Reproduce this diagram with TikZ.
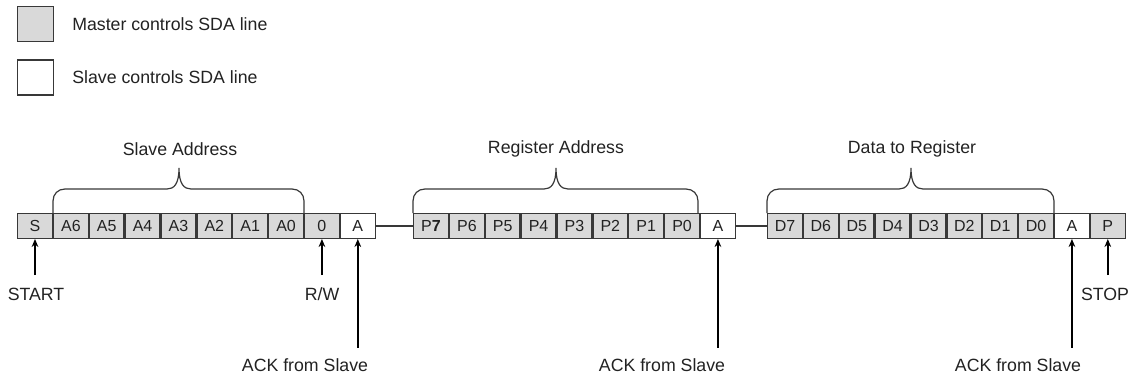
\documentclass[tikz,border=0pt]{standalone}
\usepackage{fontspec}
\setmainfont{Liberation Sans}
\usetikzlibrary{arrows.meta, positioning}
\definecolor{busgray}{HTML}{D9D9D9}
\definecolor{busline}{HTML}{383838}
\definecolor{bustext}{HTML}{222222}

\begin{document}
\begin{tikzpicture}[
    x=0.75pt, y=-0.75pt,
    >={Stealth[length=6pt,width=5pt]},
    bit/.style={
        draw=busline,
        line width=0.9pt,
        fill=busgray,
        minimum width=26.0pt,
        minimum height=18.6pt,
        inner sep=0pt,
        font=\fontsize{12}{14}\selectfont,
        text=bustext
    },
    ack/.style={bit, fill=white},
    key/.style={
        draw=busline,
        line width=0.9pt,
        minimum width=26.8pt,
        minimum height=26.2pt,
        inner sep=0pt
    },
    lbl/.style={
        font=\fontsize{13.3}{15}\selectfont,
        text=bustext,
        inner sep=0pt
    },
    brc/.style={draw=busline, line width=0.9pt},
    sig/.style={draw=black, line width=1.2pt, ->}
]
\useasboundingbox (0,0) rectangle (1131,379);

% legend
\node[key, fill=busgray] (keyM) at (35.5,24) {};
\node[lbl, anchor=west] (keyMt) at (72,24) {Master controls SDA line};
\node[key, fill=white] (keyS) at (35.5,77.5) {};
\node[lbl, anchor=west] (keySt) at (72,77.5) {Slave controls SDA line};

% slave address frame
\node[bit] (S) at (35,226) {S};
\node[bit, right=0pt of S] (A6) {A6};
\node[bit, right=0pt of A6] (A5) {A5};
\node[bit, right=0pt of A5] (A4) {A4};
\node[bit, right=0pt of A4] (A3) {A3};
\node[bit, right=0pt of A3] (A2) {A2};
\node[bit, right=0pt of A2] (A1) {A1};
\node[bit, right=0pt of A1] (A0) {A0};
\node[bit, right=0pt of A0] (Rw) {0};
\node[ack, right=0pt of Rw] (Ka) {A};

% register address frame
\node[bit] (P7) at (431,226) {P\textbf{7}};
\node[bit, right=0pt of P7] (P6) {P6};
\node[bit, right=0pt of P6] (P5) {P5};
\node[bit, right=0pt of P5] (P4) {P4};
\node[bit, right=0pt of P4] (P3) {P3};
\node[bit, right=0pt of P3] (P2) {P2};
\node[bit, right=0pt of P2] (P1) {P1};
\node[bit, right=0pt of P1] (P0) {P0};
\node[ack, right=0pt of P0] (Kb) {A};

% data frame
\node[bit] (D7) at (785,226) {D7};
\node[bit, right=0pt of D7] (D6) {D6};
\node[bit, right=0pt of D6] (D5) {D5};
\node[bit, right=0pt of D5] (D4) {D4};
\node[bit, right=0pt of D4] (D3) {D3};
\node[bit, right=0pt of D3] (D2) {D2};
\node[bit, right=0pt of D2] (D1) {D1};
\node[bit, right=0pt of D1] (D0) {D0};
\node[ack, right=0pt of D0] (Kc) {A};
\node[bit, right=0pt of Kc] (Sp) {P};

\draw[brc] (Ka) -- (P7);
\draw[brc] (Kb) -- (D7);

% braces
\draw[brc] (53,213) -- (53,201) .. controls (53,194) and (58,189) .. (65,189) -- (167,189) .. controls (174,189) and (179,184) .. (179,168) .. controls (179,184) and (184,189) .. (191,189) -- (292,189) .. controls (299,189) and (304,194) .. (304,201) -- (304,213);
\draw[brc] (413,213) -- (413,201) .. controls (413,194) and (418,189) .. (425,189) -- (544,189) .. controls (551,189) and (556,184) .. (556,168) .. controls (556,184) and (561,189) .. (568,189) -- (686,189) .. controls (693,189) and (698,194) .. (698,201) -- (698,213);
\draw[brc] (767,213) -- (767,201) .. controls (767,194) and (772,189) .. (779,189) -- (899,189) .. controls (906,189) and (911,184) .. (911,168) .. controls (911,184) and (916,189) .. (923,189) -- (1042,189) .. controls (1049,189) and (1054,194) .. (1054,201) -- (1054,213);

\node[lbl] (grpA) at (180,149) {Slave Address};
\node[lbl] (grpP) at (556,149) {Register Address};
\node[lbl] (grpD) at (912,149) {Data to Register};

% markers below the frame
\coordinate (tS) at ([yshift=-27pt]S.south);
\coordinate (tRw) at ([yshift=-27pt]Rw.south);
\coordinate (tSp) at ([yshift=-27pt]Sp.south);
\coordinate (tKa) at ([yshift=-81.5pt]Ka.south);
\coordinate (tKb) at ([yshift=-81.5pt]Kb.south);
\coordinate (tKc) at ([yshift=-81.5pt]Kc.south);

\draw[sig] (tS) -- (S.south);
\draw[sig] (tRw) -- (Rw.south);
\draw[sig] (tSp) -- (Sp.south);
\draw[sig] (tKa) -- (Ka.south);
\draw[sig] (tKb) -- (Kb.south);
\draw[sig] (tKc) -- (Kc.south);

\node[lbl] (lStart) at (36,294) {START};
\node[lbl] (lRw) at (322,294) {R/W};
\node[lbl] (lStop) at (1105,294) {STOP};
\node[lbl] (lKa) at (305,365) {ACK from Slave};
\node[lbl] (lKb) at (662,365) {ACK from Slave};
\node[lbl] (lKc) at (1018,365) {ACK from Slave};

\end{tikzpicture}
\end{document}
